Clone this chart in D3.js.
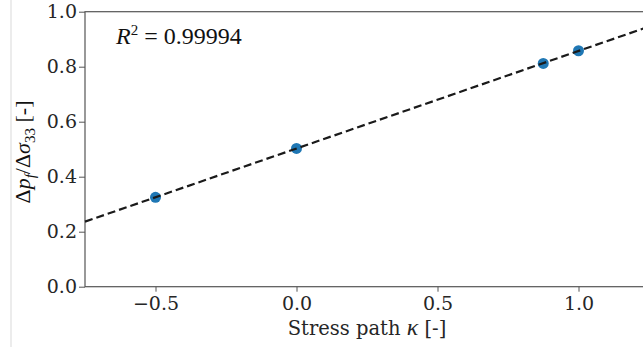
<!DOCTYPE html>
<html>
<head>
<meta charset="utf-8">
<script src="https://cdn.jsdelivr.net/npm/d3@7"></script>
<style>
  body { margin: 0; background: #fff; }
  svg { display: block; }
  .tick text { font-family: "DejaVu Serif", serif; font-size: 19px; fill: #262626; }
  .times { font-family: "Liberation Serif", "Times New Roman", Times, serif; }
  .dejavu { font-family: "DejaVu Serif", serif; }
</style>
</head>
<body>
<div class="container"></div>
<script>
var w = 643;
var h = 347;

// stress path kappa vs. normalised pore pressure change
var kappaValues = [-0.5, 0.0, 0.875, 1.0];
var ratioValues = [0.325, 0.503, 0.812, 0.858];

var xTicks = [-0.5, 0.0, 0.5, 1.0];
var yTicks = [0.0, 0.2, 0.4, 0.6, 0.8, 1.0];
var rSquaredLabel = "0.99994";

var svg = d3.select(".container")
  .append("svg")
  .attr("width", w)
  .attr("height", h);

// thin grey frame line on the far left of the original image
svg.append("line")
  .attr("x1", 11).attr("x2", 11)
  .attr("y1", 0).attr("y2", h)
  .attr("stroke", "#d9d9d9")
  .attr("stroke-width", 1);

var xScale = d3.scaleLinear().domain([-0.75, 1.25]).range([85, 649]);
var yScale = d3.scaleLinear().domain([0, 1]).range([286.7, 11.7]);

// least squares fit through the points
var meanX = d3.mean(kappaValues);
var meanY = d3.mean(ratioValues);
var sxy = d3.sum(kappaValues, (k, i) => (k - meanX) * (ratioValues[i] - meanY));
var sxx = d3.sum(kappaValues, k => (k - meanX) * (k - meanX));
var slope = sxy / sxx;
var intercept = meanY - slope * meanX;

var fmt = d3.format(".1f");
var minusFmt = d => fmt(d).replace("-", "\u2212");

var x_axis = d3.axisBottom(xScale).tickValues(xTicks).tickFormat(minusFmt).tickSize(5).tickPadding(5);
var y_axis = d3.axisLeft(yScale).tickValues(yTicks).tickFormat(fmt).tickSize(6).tickPadding(2);

var gx = svg.append("g")
  .attr("transform", "translate(0," + yScale(0) + ")")
  .call(x_axis);
var gy = svg.append("g")
  .attr("transform", "translate(" + xScale(-0.75) + ",0)")
  .call(y_axis);

[gx, gy].forEach(g => {
  g.select(".domain").remove();
  g.selectAll(".tick line").attr("stroke", "#555").attr("stroke-width", 1);
});

// spines
svg.append("rect")
  .attr("x", xScale(-0.75))
  .attr("y", yScale(1))
  .attr("width", xScale(1.25) - xScale(-0.75))
  .attr("height", yScale(0) - yScale(1))
  .attr("fill", "none")
  .attr("stroke", "#555")
  .attr("stroke-width", 1.2);

var plot = svg.append("g");

plot.selectAll("circle")
  .data(kappaValues)
  .enter()
  .append("circle")
  .attr("cx", d => xScale(d))
  .attr("cy", (d, i) => yScale(ratioValues[i]))
  .attr("r", 5.5)
  .attr("fill", "#1f77b4");

var line = d3.line()
  .x(d => xScale(d))
  .y(d => yScale(slope * d + intercept));

plot.append("path")
  .datum([-0.75, 1.25])
  .attr("d", line)
  .attr("fill", "none")
  .attr("stroke", "#1a1a1a")
  .attr("stroke-width", 2.2)
  .attr("stroke-dasharray", "8,4");

// R^2 annotation
var rText = svg.append("text")
  .attr("class", "times")
  .attr("x", 116)
  .attr("y", 44)
  .attr("font-size", 24)
  .attr("fill", "#111");
rText.append("tspan").attr("font-style", "italic").text("R");
rText.append("tspan").attr("font-size", 15).attr("dy", -9).text("2");
rText.append("tspan").attr("dy", 9).text(" = " + rSquaredLabel);

// x axis label
var xl = svg.append("text")
  .attr("class", "dejavu")
  .attr("x", 367)
  .attr("y", 335)
  .attr("text-anchor", "middle")
  .attr("font-size", 19.5)
  .attr("fill", "#262626");
xl.append("tspan").text("Stress path ");
xl.append("tspan").attr("class", "times").attr("font-style", "italic").attr("font-size", 24).text("\u03ba");
xl.append("tspan").text(" [-]");

// y axis label
var yl = svg.append("text")
  .attr("class", "times")
  .attr("transform", "translate(30,152) rotate(-90)")
  .attr("text-anchor", "middle")
  .attr("font-size", 22)
  .attr("fill", "#111");
yl.append("tspan").text("\u0394");
yl.append("tspan").attr("font-style", "italic").text("p");
yl.append("tspan").attr("font-style", "italic").attr("font-size", 15).attr("dy", 5).text("f");
yl.append("tspan").attr("dy", -5).text("/\u0394");
yl.append("tspan").attr("font-style", "italic").text("\u03c3");
yl.append("tspan").attr("font-size", 15).attr("dy", 5).text("33");
yl.append("tspan").attr("dy", -5).text(" [-]");
</script>
</body>
</html>
